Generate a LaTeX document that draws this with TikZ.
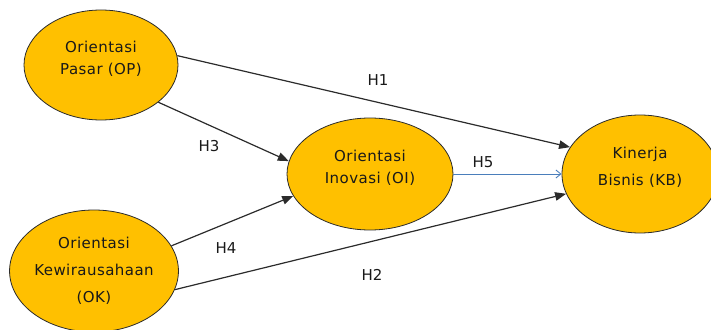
\documentclass[tikz,border=0pt]{standalone}
\usepackage{fontspec}
\setmainfont{DejaVu Sans}
\newfontfamily\ellfont{DejaVu Sans}[LetterSpace=3]
\usetikzlibrary{shapes.geometric,arrows.meta}
\definecolor{gold}{HTML}{FFC000}
\definecolor{hblue}{HTML}{4A7EBB}
\definecolor{linegray}{HTML}{2B2B2B}
\tikzset{
  construct/.style={ellipse, draw=linegray, line width=0.8pt, fill=gold, inner sep=0pt, align=center, text=black!90},
  hyp/.style={draw=linegray, line width=1.2pt, -{Triangle[length=11pt,width=8.5pt]}},
  hlabel/.style={font=\fontsize{15}{18}\selectfont, text=black!90}
}
\begin{document}
\begin{tikzpicture}[x=1pt,y=-1pt]
            \useasboundingbox (0,0) rectangle (711,329);
            % constructs
            \node[construct, minimum width=154pt, minimum height=110pt, text depth=14pt, font=\ellfont\fontsize{15}{22}\selectfont] (op) at (101,65) {Orientasi\\Pasar (OP)};
            \node[construct, minimum width=166pt, minimum height=112pt, text depth=14pt, font=\ellfont\fontsize{15}{22}\selectfont] (oi) at (370,174) {Orientasi\\Inovasi (OI)};
            \node[construct, minimum width=166pt, minimum height=122pt, font=\ellfont\fontsize{15}{27}\selectfont] (ok) at (94,271) {Orientasi\\Kewirausahaan\\(OK)};
            \node[construct, minimum width=156pt, minimum height=118pt, text depth=15pt, font=\ellfont\fontsize{15}{27}\selectfont] (kb) at (640,174) {Kinerja\\Bisnis (KB)};
            % hypotheses
            \draw[hyp] (op.7) -- (kb.159);
            \draw[hyp] (op.-33) -- (oi.171);
            \draw[hyp] (ok.18) -- (oi.196);
            \draw[hyp] (ok.-13) -- (kb.195);
            \draw[draw=hblue, line width=0.9pt, -{Straight Barb[length=5pt,width=8pt]}] (oi.east) -- (kb.west);
            % labels
            \node[hlabel] (h1) at (378,80) {H1};
            \node[hlabel] (h3) at (209,146) {H3};
            \node[hlabel] (h4) at (226,248) {H4};
            \node[hlabel] (h2) at (372,275) {H2};
            \node[hlabel] (h5) at (483,162) {H5};
        \end{tikzpicture}
\end{document}
